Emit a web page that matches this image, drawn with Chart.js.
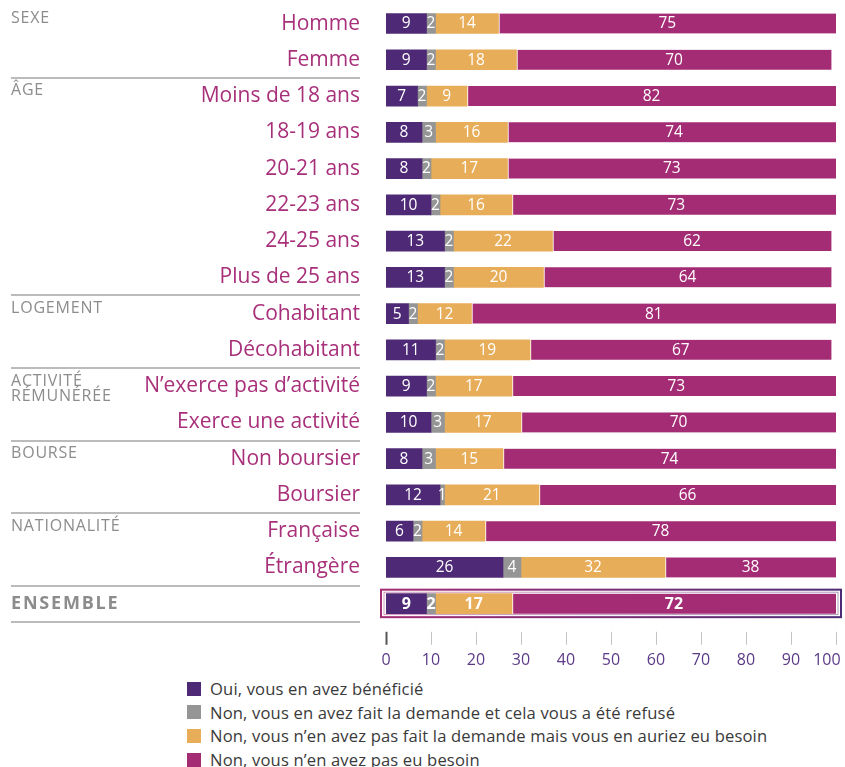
<!DOCTYPE html>
<html lang="fr">
<head>
<meta charset="utf-8">
<script src="https://cdn.jsdelivr.net/npm/chart.js@4.4.1/dist/chart.umd.min.js"></script>
<style>
  html, body { margin: 0; padding: 0; background: #fff; }
  #wrap { position: absolute; left: 0; top: 0; width: 845px; height: 676px; }
  #legend { position: absolute; left: 187px; top: 677px; font-family: "Open Sans"; font-size: 16.6px; letter-spacing: 0.15px; color: #3a3a3a; }
  .item { display: flex; align-items: center; height: 23.6px; }
  .box { width: 14px; height: 14px; margin-right: 9px; }
</style>
</head>
<body>
<div id="wrap"><canvas id="chart"></canvas></div>
<div id="legend"></div>
<script>
const categories = [
    "Homme", "Femme",
    "Moins de 18 ans", "18-19 ans", "20-21 ans", "22-23 ans", "24-25 ans", "Plus de 25 ans",
    "Cohabitant", "Décohabitant",
    "N\u2019exerce pas d\u2019activité", "Exerce une activité",
    "Non boursier", "Boursier",
    "Française", "Étrangère",
    "ENSEMBLE"
];

const beneficie         = [9, 9, 7, 8, 8, 10, 13, 13, 5, 11, 9, 10, 8, 12, 6, 26, 9];
const refuse            = [2, 2, 2, 3, 2, 2, 2, 2, 2, 2, 2, 3, 3, 1, 2, 4, 2];
const besoinSansDemande = [14, 18, 9, 16, 17, 16, 22, 20, 12, 19, 17, 17, 15, 21, 14, 32, 17];
const pasBesoin         = [75, 70, 82, 74, 73, 73, 62, 64, 81, 67, 73, 70, 74, 66, 78, 38, 72];

const seriesNames = [
    "Oui, vous en avez bénéficié",
    "Non, vous en avez fait la demande et cela vous a été refusé",
    "Non, vous n\u2019en avez pas fait la demande mais vous en auriez eu besoin",
    "Non, vous n\u2019en avez pas eu besoin"
];

const groupNames  = ["SEXE", "ÂGE", "LOGEMENT", "ACTIVITÉ\nRÉMUNÉRÉE", "BOURSE", "NATIONALITÉ"];
const groupStarts = [0, 2, 8, 10, 12, 14];

const xTicks = [0, 10, 20, 30, 40, 50, 60, 70, 80, 90, 100];

const colors  = ["#4E2A76", "#959595", "#E8AD58", "#A32C74"];
const MAGENTA = "#A8307A";
const PURPLE  = "#5B3A87";
const GREY    = "#8C8C8C";
const FONT    = "Open Sans";

const lastIndex = categories.length - 1;

// group labels, separators and the ENSEMBLE frame
const groupPlugin = {
    id: "groups",
    afterDraw(chart) {
        const c = chart.ctx;
        const y = chart.scales.y;
        const area = chart.chartArea;
        const half = (y.getPixelForValue(1) - y.getPixelForValue(0)) / 2;
        const lineRight = area.left - 26;

        c.save();

        c.strokeStyle = "#BBBBBB";
        c.lineWidth = 2;
        const seps = groupStarts.slice(1).concat([lastIndex, lastIndex + 1]);
        seps.forEach(i => {
            const yy = Math.round(y.getPixelForValue(i) - half);
            c.beginPath();
            c.moveTo(11, yy);
            c.lineTo(lineRight, yy);
            c.stroke();
        });

        c.fillStyle = GREY;
        c.font = `16px "${FONT}"`;
        c.letterSpacing = "0.8px";
        c.textBaseline = "top";
        c.textAlign = "left";
        groupNames.forEach((name, g) => {
            const top = y.getPixelForValue(groupStarts[g]) - half + 5;
            name.split("\n").forEach((line, k) => {
                c.fillText(line, 11, top + k * 15.5);
            });
        });

        c.font = `bold 18px "${FONT}"`;
        c.letterSpacing = "1.8px";
        c.textBaseline = "middle";
        c.fillText(categories[lastIndex], 11, y.getPixelForValue(lastIndex));

        // frame around the ENSEMBLE bar
        const yc = y.getPixelForValue(lastIndex);
        const grad = c.createLinearGradient(area.left, 0, area.right, 0);
        grad.addColorStop(0, "#A32C74");
        grad.addColorStop(1, "#4E2A76");
        c.strokeStyle = grad;
        c.lineWidth = 2;
        c.strokeRect(area.left - 5, yc - 14, area.right - area.left + 10, 27.5);
        c.lineWidth = 0.8;
        c.globalAlpha = 0.6;
        c.strokeRect(area.left - 2, yc - 11.5, area.right - area.left + 4, 22.5);

        c.restore();
    }
};

// values written inside the segments
const valuePlugin = {
    id: "values",
    afterDatasetsDraw(chart) {
        const c = chart.ctx;
        c.save();
        c.fillStyle = "#FFFFFF";
        c.textAlign = "center";
        c.textBaseline = "middle";
        chart.data.datasets.forEach((ds, d) => {
            chart.getDatasetMeta(d).data.forEach((bar, i) => {
                c.font = i === lastIndex ? `bold 16px "${FONT}"` : `15.5px "${FONT}"`;
                c.fillText(ds.data[i], (bar.x + bar.base) / 2, bar.y + 0.5);
            });
        });
        c.restore();
    }
};

// short tick marks under the bars
const tickPlugin = {
    id: "tickMarks",
    afterDraw(chart) {
        const c = chart.ctx;
        const x = chart.scales.x;
        const top = chart.chartArea.bottom + 10;
        c.save();
        xTicks.forEach(v => {
            const px = Math.round(x.getPixelForValue(v)) + 0.5;
            c.strokeStyle = v === 0 ? "#555555" : "#C4C4C4";
            c.lineWidth = v === 0 ? 2 : 1;
            c.beginPath();
            c.moveTo(px, top);
            c.lineTo(px, top + 13);
            c.stroke();
        });
        c.restore();
    }
};

function loadChart() {

    const ctx = document.getElementById("chart").getContext("2d");

    const values = [beneficie, refuse, besoinSansDemande, pasBesoin];

    new Chart(ctx, {

        type: "bar",

        data: {
            labels: categories,
            datasets: values.map((v, k) => ({
                label: seriesNames[k],
                data: v,
                backgroundColor: colors[k],
                borderColor: "rgba(255,255,255,0.85)",
                borderWidth: k === 3 ? { left: 1.5, right: 0, top: 0, bottom: 0 } : 0,
                borderSkipped: false,
                barThickness: 20
            }))
        },

        options: {

            indexAxis: "y",

            responsive: true,

            maintainAspectRatio: false,

            animation: false,

            layout: {
                padding: { top: 5.4, right: 9, left: 0, bottom: 0 }
            },

            scales: {

                x: {
                    stacked: true,
                    min: 0,
                    max: 100,
                    grid: { display: false, drawTicks: false },
                    border: { display: false },
                    afterBuildTicks: s => { s.ticks = xTicks.map(v => ({ value: v })); },
                    afterFit: s => {
                        s.height = 54.2;
                        s.paddingLeft = 0;
                        s.paddingRight = 0;
                        s.paddingTop = 0;
                        s.paddingBottom = 0;
                    },
                    ticks: {
                        padding: 29,
                        autoSkip: false,
                        maxRotation: 0,
                        minRotation: 0,
                        color: PURPLE,
                        font: { family: FONT, size: 16 },
                        callback: v => v === 100 ? "100\u2007\u2007" : String(v)
                    }
                },

                y: {
                    stacked: true,
                    grid: { display: false, drawTicks: false },
                    border: { display: false },
                    afterFit: s => {
                        s.width = 386;
                        s.paddingTop = 0;
                        s.paddingBottom = 0;
                    },
                    ticks: {
                        padding: 26,
                        autoSkip: false,
                        color: MAGENTA,
                        font: { family: FONT, size: 21 },
                        callback: (v, i) => i === lastIndex ? "" : categories[i]
                    }
                }

            },

            plugins: {
                legend: { display: false },
                tooltip: { enabled: false }
            }

        },

        plugins: [groupPlugin, valuePlugin, tickPlugin]

    });

    const legend = document.getElementById("legend");
    seriesNames.forEach((name, k) => {
        const item = document.createElement("div");
        item.className = "item";
        const box = document.createElement("span");
        box.className = "box";
        box.style.background = colors[k];
        const text = document.createElement("span");
        text.textContent = name;
        item.appendChild(box);
        item.appendChild(text);
        legend.appendChild(item);
    });

}

window.addEventListener("DOMContentLoaded", loadChart);
</script>
</body>
</html>
